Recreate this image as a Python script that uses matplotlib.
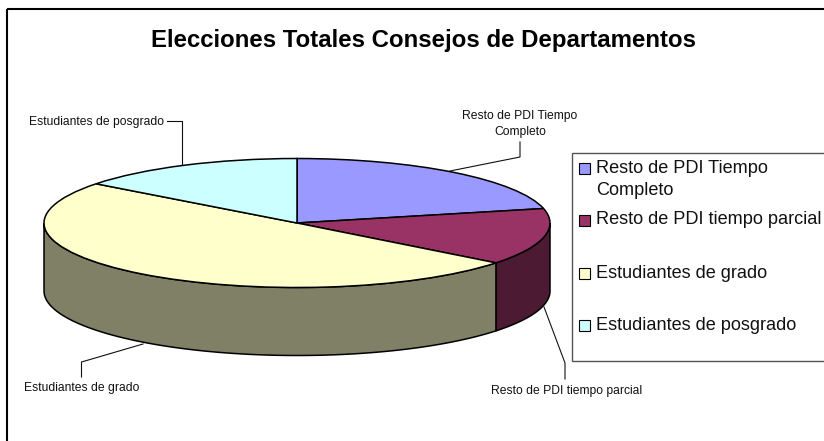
import numpy as np
import matplotlib
matplotlib.use('Agg')
import matplotlib.pyplot as plt
from matplotlib.patches import Rectangle

W, H = 824, 441
plt.rcParams['font.family'] = ['Liberation Sans', 'DejaVu Sans']

title = 'Elecciones Totales Consejos de Departamentos'
categories = ['Resto de PDI Tiempo\nCompleto', 'Resto de PDI tiempo parcial',
              'Estudiantes de grado', 'Estudiantes de posgrado']
values = [21.4, 14.2, 49.8, 14.6]
top_colors = ['#9999FF', '#993366', '#FFFFCC', '#CCFFFF']
side_colors = ['#4D4D80', '#4D1A33', '#808066', '#668080']

fig = plt.figure(figsize=(W / 100, H / 100), dpi=100)
bg = fig.add_axes([0, 0, 1, 1])
bg.set_xlim(0, W)
bg.set_ylim(H, 0)
bg.axis('off')

# outer chart frame runs off the right and bottom edges
bg.add_patch(Rectangle((7.5, 9), 840, 450, fill=False, ec='black', lw=1.5))

# pie axes: x spans the ellipse, y runs from ellipse top to bottom of the wall
cx, cy, rx, ry, depth = 297, 223, 253, 64.5, 68
d = depth / ry
ax = fig.add_axes([(cx - rx) / W, 1 - (cy + ry + depth) / H, 2 * rx / W, (2 * ry + depth) / H])
ax.set_zorder(2)

frac = np.cumsum([0] + values) / np.sum(values)
for i in range(len(values)):
    # angle clockwise from 12 o'clock, wall only on the front half
    a0 = max(frac[i] * 2 * np.pi, np.pi / 2)
    a1 = min(frac[i + 1] * 2 * np.pi, 3 * np.pi / 2)
    if a1 <= a0:
        continue
    t = np.linspace(a0, a1, 80)
    xs = np.sin(t)
    ys = np.cos(t)
    ax.fill(np.r_[xs, xs[::-1]], np.r_[ys, ys[::-1] - d], fc=side_colors[i], ec='black', lw=1.1,
            clip_on=False)

ax.pie(values, colors=top_colors, startangle=90, counterclock=False,
       wedgeprops=dict(edgecolor='black', linewidth=1.1, clip_on=False))
ax.set_aspect('auto')
ax.set_xlim(-1, 1)
ax.set_ylim(-1 - d, 1)
ax.axis('off')

fig.text(423 / W, 1 - 40 / H, title, ha='center', va='center', fontsize=17.3, fontweight='bold')

# data labels with leader lines
lab = dict(fontsize=8.7, color='#111111', zorder=3)
leader = dict(color='#111111', lw=0.8)
bg.text(96.5, 122, categories[3], ha='center', va='center', **lab)
bg.plot([167, 182, 182], [121, 121, 164], **leader)
bg.text(81.5, 388, categories[2], ha='center', va='center', **lab)
bg.plot([81.5, 81.5, 143], [377, 362, 344], **leader)
bg.text(520, 124, categories[0], ha='center', va='center', linespacing=1.35, **lab)
bg.plot([520, 520, 450], [142, 157, 171], **leader)
bg.text(567, 391, categories[1], ha='center', va='center', **lab)
bg.plot([565, 565, 544], [379, 363, 307], **leader)

# legend
bg.add_patch(Rectangle((572, 153), 270, 208, fc='white', ec='#555555', lw=1.0, zorder=3))
marker_y = [163, 215, 268, 320]
text_y = [179.5, 220, 273, 325]
for i in range(len(categories)):
    bg.add_patch(Rectangle((579.5, marker_y[i]), 10.5, 11, fc=top_colors[i], ec='black', lw=0.8, zorder=4))
    bg.text(596, text_y[i], categories[i], ha='left', va='center', fontsize=13.05, color='#111111',
            linespacing=1.33, zorder=4)

fig.savefig('out.png', dpi=100)
